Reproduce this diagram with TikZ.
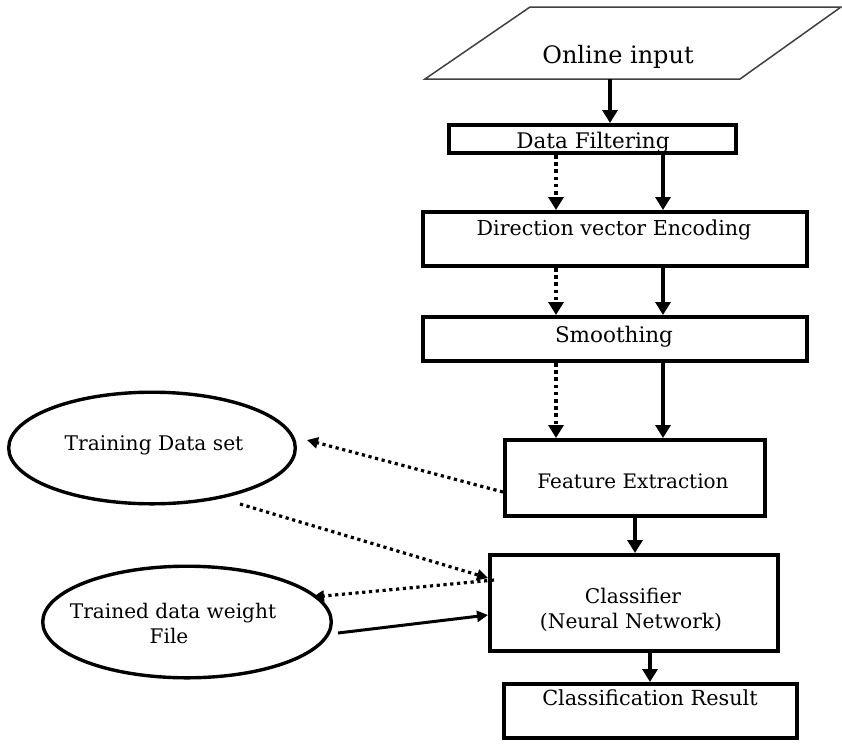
\documentclass[tikz,border=0pt]{standalone}
\usepackage{fontspec}
\setmainfont{DejaVu Serif}
\usetikzlibrary{arrows.meta,shapes.geometric,calc}

\begin{document}
\begin{tikzpicture}[x=1pt,y=-1pt,
  box/.style={draw,line width=4.2pt,inner sep=0pt},
  oval/.style={draw,ellipse,line width=3.4pt,inner sep=0pt},
  lbl/.style={inner sep=0pt,anchor=base},
  flow/.style={line width=3.4pt,-{Triangle[length=13pt,width=15pt]}},
  dotflow/.style={line width=3.6pt,dash pattern=on 3.6pt off 3.6pt,-{Triangle[length=13pt,width=15pt]}},
  side/.style={line width=3pt,-{Triangle[length=11pt,width=11pt]}},
  dotside/.style={line width=3.2pt,dash pattern=on 3.2pt off 3.6pt,-{Triangle[length=11pt,width=11pt]}},
  sz/.style={font=\fontsize{#1}{#1}\selectfont}]

\fill[white] (0,0) rectangle (842,745);
\useasboundingbox (0,0) rectangle (842,745);

% input parallelogram
\coordinate (p1) at (425,79);
\coordinate (p2) at (740,79);
\coordinate (p3) at (841,7);
\coordinate (p4) at (530,7);
\draw[line width=1.5pt,black!75] (p1) -- (p2) -- (p3) -- (p4) -- cycle;
\coordinate (inbottom) at (610,79);
\node[lbl,sz=24] (input) at (618,63) {Online input};

% processing boxes
\node[box,minimum width=286.8pt,minimum height=27.8pt] (filt) at (592.5,139) {};
\node[box,minimum width=383.8pt,minimum height=53.8pt] (dir) at (615,239) {};
\node[box,minimum width=383.8pt,minimum height=43.8pt] (smooth) at (615,339) {};
\node[box,minimum width=259.8pt,minimum height=75.8pt] (feat) at (635,478) {};
\node[box,minimum width=287.8pt,minimum height=95.8pt] (class) at (634,603) {};
\node[box,minimum width=292.8pt,minimum height=53.8pt] (result) at (650.5,711) {};

\node[lbl,sz=21.5] (filtT) at (593,148) {Data Filtering};
\node[lbl,sz=20.6] (dirT) at (614,235) {Direction vector Encoding};
\node[lbl,sz=21.5] (smoothT) at (614,342) {Smoothing};
\node[lbl,sz=20] (featT) at (633,488) {Feature Extraction};
\node[lbl,sz=20.2] (classA) at (633,603) {Classifier};
\node[lbl,sz=20.2] (classB) at (631,628) {(Neural Network)};
\node[lbl,sz=20.8] (resultT) at (650,705) {Classification Result};

% data stores
\node[oval,minimum width=286.6pt,minimum height=111.6pt] (train) at (152,448) {};
\node[oval,minimum width=288.6pt,minimum height=111.6pt] (weight) at (187,622) {};
\node[lbl,sz=20.2] (trainT) at (154,450) {Training Data set};
\node[lbl,sz=20.1] (weightA) at (173,618) {Trained data weight};
\node[lbl,sz=20.1] (weightB) at (169,643) {File};

% columns of the vertical connectors
\coordinate (cd) at (556,0);
\coordinate (cs) at (663,0);

% main flow
\draw[flow] (inbottom) -- (filt.north -| inbottom);
\draw[dotflow] (filt.south -| cd) -- (dir.north -| cd);
\draw[flow] (filt.south -| cs) -- (dir.north -| cs);
\draw[dotflow] (dir.south -| cd) -- (smooth.north -| cd);
\draw[flow] (dir.south -| cs) -- (smooth.north -| cs);
\draw[dotflow] (smooth.south -| cd) -- (feat.north -| cd);
\draw[flow] (smooth.south -| cs) -- (feat.north -| cs);
\draw[flow] (feat.south) -- (class.north -| feat.south);
\draw[flow] ($(class.south)+(16,0)$) -- ($(result.north)+(-0.5,0)$);

% links to the data stores
\draw[dotside] ($(feat.west)+(0,14)$) -- ($(train.center)+(155,-8)$);
\draw[dotside] ($(train.center)+(88,56)$) -- ($(class.west)+(0,-25)$);
\draw[dotside] ($(class.west)+(6,-23)$) -- ($(weight.center)+(126,-25)$);
\draw[side] ($(weight.center)+(151,11)$) -- ($(class.west)+(0,12)$);
\end{tikzpicture}
\end{document}
